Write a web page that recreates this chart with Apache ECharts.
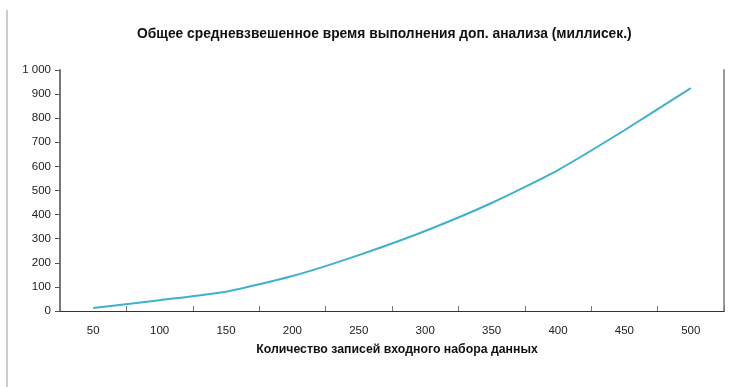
<!DOCTYPE html>
<html>
<head>
<meta charset="utf-8">
<script src="https://cdn.jsdelivr.net/npm/echarts@6/dist/echarts.min.js"></script>
<style>
  html, body { margin: 0; padding: 0; background: #fff; }
  #chart { width: 736px; height: 387px; }
</style>
</head>
<body>
<div id="chart"></div>
<script>
// записи входного набора
const recordCounts = ['50', '100', '150', '200', '250', '300', '350', '400', '450', '500'];
// время, миллисек.
const avgTimeMs = [12, 45, 80, 145, 232, 332, 448, 585, 750, 925];

const chart = echarts.init(document.getElementById('chart'));
chart.setOption({
    animation: false,
    textStyle: { fontFamily: 'Liberation Sans, Arial, sans-serif' },
    title: {
        text: 'Общее средневзвешенное время выполнения доп. анализа (миллисек.)',
        left: 132,
        top: 22,
        textStyle: { fontSize: 13.8, fontWeight: 'bold', color: '#111' }
    },
    grid: { left: 60, right: 12, top: 70, bottom: 76 },
    graphic: [{
        type: 'line',
        shape: { x1: 7, y1: 10, x2: 7, y2: 387 },
        style: { stroke: '#999', lineWidth: 1 }
    }],
    xAxis: [{
        type: 'category',
        data: recordCounts,
        boundaryGap: true,
        axisLine: { show: false },
        axisTick: { show: true, inside: true, length: 5, lineStyle: { color: '#777' } },
        axisLabel: { color: '#222', fontSize: 11.5, margin: 14 },
        name: 'Количество записей входного набора данных',
        nameLocation: 'middle',
        nameGap: 33,
        nameTextStyle: { fontSize: 12.3, fontWeight: 'bold', color: '#111', padding: [0, 0, 0, 10] }
    }, {
        type: 'category',
        data: recordCounts,
        position: 'top',
        axisLine: { show: true, lineStyle: { color: '#333', width: 1 } },
        axisTick: { show: false },
        axisLabel: { show: false }
    }],
    yAxis: [{
        type: 'value',
        min: 0,
        max: 1000,
        interval: 100,
        axisLine: { show: true, lineStyle: { color: '#777', width: 2 } },
        axisTick: { show: true, length: 5, lineStyle: { color: '#555' } },
        splitLine: { show: false },
        axisLabel: {
            color: '#222',
            fontSize: 11.5,
            margin: 9,
            formatter: v => v >= 1000 ? '1 000' : String(v)
        }
    }, {
        type: 'value',
        min: 0,
        max: 1000,
        position: 'right',
        axisLine: { show: true, lineStyle: { color: '#999', width: 2 } },
        axisTick: { show: false },
        axisLabel: { show: false },
        splitLine: { show: false }
    }],
    series: [{
        type: 'line',
        data: avgTimeMs,
        showSymbol: false,
        smooth: 0.2,
        lineStyle: { color: '#3fb1cc', width: 2 },
        itemStyle: { color: '#3fb1cc' }
    }]
});
</script>
</body>
</html>
